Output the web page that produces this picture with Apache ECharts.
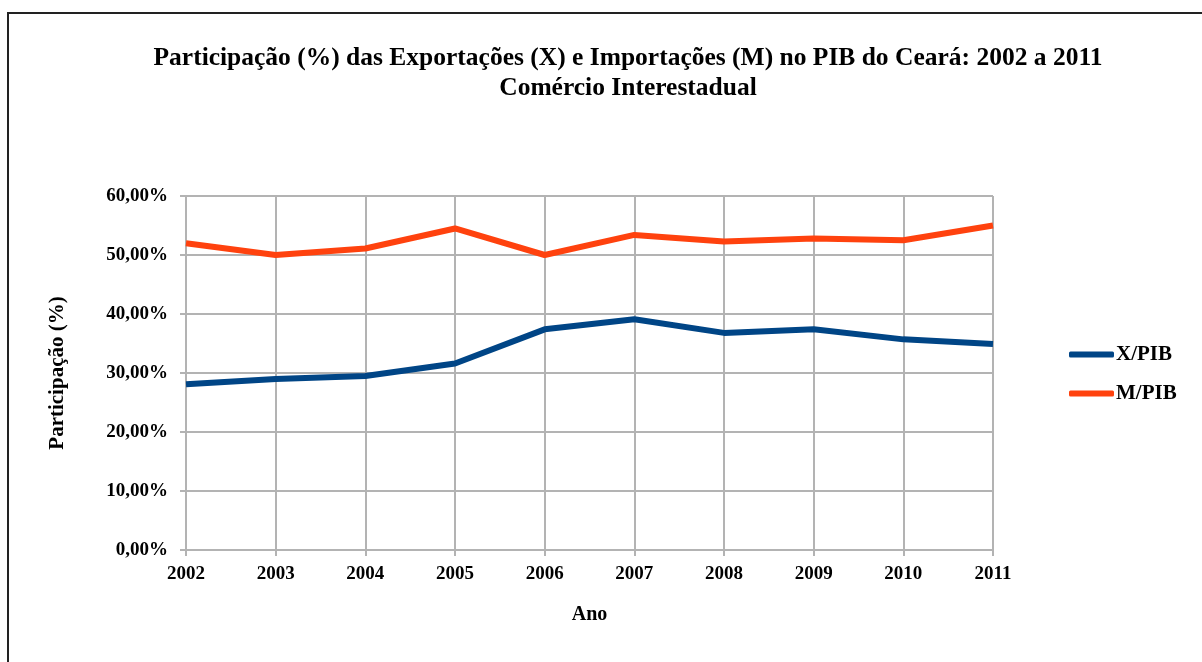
<!DOCTYPE html>
<html>
<head>
<meta charset="utf-8">
<script src="https://cdn.jsdelivr.net/npm/echarts@6/dist/echarts.min.js"></script>
<style>
html,body{margin:0;padding:0;background:#fff;}
#c{width:1202px;height:662px;}
</style>
</head>
<body>
<div id="c"></div>
<script>
const years = ['2002','2003','2004','2005','2006','2007','2008','2009','2010','2011'];
const xPib = [28.1, 29.0, 29.5, 31.6, 37.4, 39.1, 36.8, 37.4, 35.7, 34.9];
const mPib = [52.0, 50.0, 51.1, 54.5, 50.0, 53.4, 52.3, 52.8, 52.5, 55.0];
const titleText = 'Participação (%) das Exportações (X) e Importações (M) no PIB do Ceará: 2002 a 2011\nComércio Interestadual';

const FONT = '"Liberation Serif", "Times New Roman", serif';
const chart = echarts.init(document.getElementById('c'), null, {renderer:'canvas'});
chart.setOption({
  animation:false,
  backgroundColor:'#fff',
  graphic:[{
    type:'rect', silent:true,
    shape:{x:8, y:13, width:1260, height:720},
    style:{fill:'none', stroke:'#222', lineWidth:2}
  }],
  title:{
    text:titleText,
    left:623, top:38, textAlign:'center',
    textStyle:{fontFamily:FONT, fontWeight:'bold', fontSize:25.5, color:'#000', lineHeight:30}
  },
  legend:{
    data:['X/PIB','M/PIB'],
    orient:'vertical',
    left:1064, top:339,
    itemWidth:45, itemHeight:6, itemGap:18,
    icon:'roundRect',
    textStyle:{fontFamily:FONT, fontWeight:'bold', fontSize:21, color:'#000', padding:[0,0,0,-3]}
  },
  grid:{left:186, right:209, top:196, bottom:112},
  xAxis:{
    type:'category', data:years, boundaryGap:false,
    name:'Ano', nameLocation:'middle', nameGap:55,
    nameTextStyle:{fontFamily:FONT, fontWeight:'bold', fontSize:20, color:'#000'},
    axisLine:{lineStyle:{color:'#b3b3b3', width:2}},
    axisTick:{show:true, length:6, lineStyle:{color:'#b3b3b3', width:2}},
    axisLabel:{fontFamily:FONT, fontWeight:'bold', fontSize:19, color:'#000', margin:15},
    splitLine:{show:true, lineStyle:{color:'#b3b3b3', width:2}}
  },
  yAxis:{
    type:'value', min:0, max:60, interval:10,
    name:'Participação (%)', nameLocation:'middle', nameGap:118, nameRotate:90,
    nameTextStyle:{fontFamily:FONT, fontWeight:'bold', fontSize:21, color:'#000'},
    axisLine:{show:true, lineStyle:{color:'#b3b3b3', width:2}},
    axisTick:{show:true, length:6, lineStyle:{color:'#b3b3b3', width:2}},
    axisLabel:{fontFamily:FONT, fontWeight:'bold', fontSize:19, color:'#000', margin:18,
      formatter:v=>v.toFixed(2).replace('.',',')+'%'},
    splitLine:{show:true, lineStyle:{color:'#b3b3b3', width:2}}
  },
  series:[
    {name:'X/PIB', type:'line', data:xPib, symbol:'none', color:'#004586',
     lineStyle:{width:6, color:'#004586'}},
    {name:'M/PIB', type:'line', data:mPib, symbol:'none', color:'#ff420e',
     lineStyle:{width:6, color:'#ff420e'}}
  ]
});
</script>
</body>
</html>
